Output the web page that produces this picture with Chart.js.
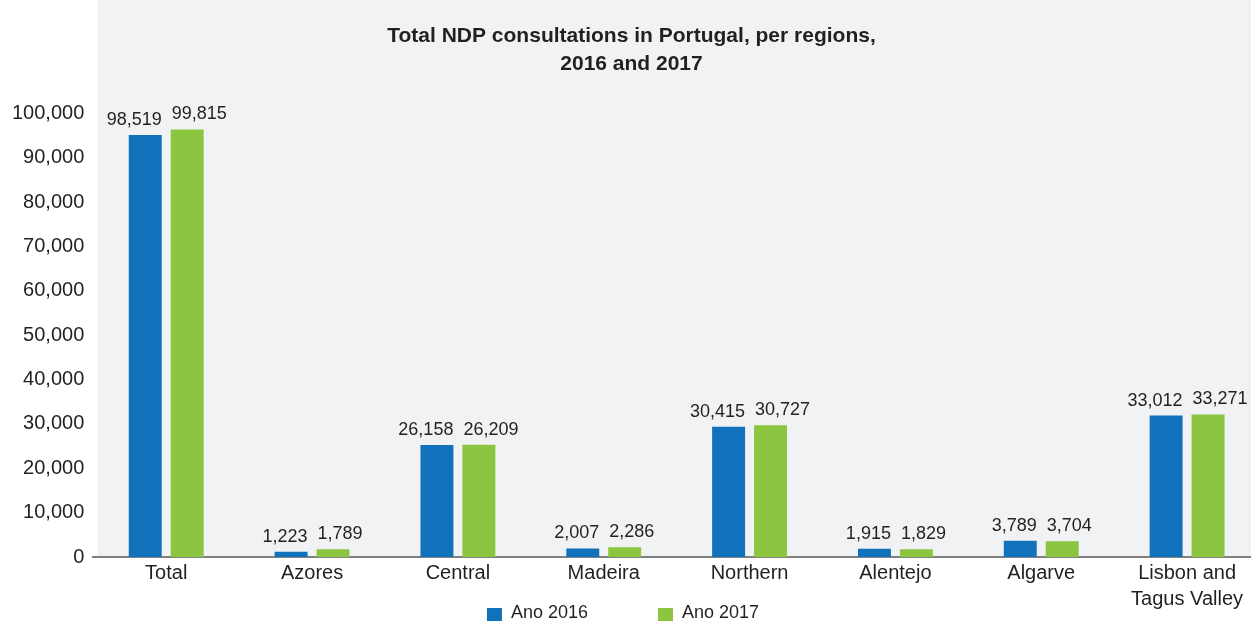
<!DOCTYPE html>
<html>
<head>
<meta charset="utf-8">
<title>Total NDP consultations in Portugal, per regions, 2016 and 2017</title>
<script src="https://cdn.jsdelivr.net/npm/chart.js@4/dist/chart.umd.min.js"></script>
<style>
    html, body { margin: 0; padding: 0; background: #ffffff; overflow: hidden; }
    #wrap { width: 1260px; height: 621px; }
</style>
</head>
<body>
<div id="wrap"><canvas id="ndpChart"></canvas></div>
<script>
    // Chart data
    const regions = ['Total', 'Azores', 'Central', 'Madeira', 'Northern', 'Alentejo', 'Algarve', ['Lisbon and', 'Tagus Valley']];
    const values2016 = [98519, 1223, 26158, 2007, 30415, 1915, 3789, 33012];
    const values2017 = [99815, 1789, 26209, 2286, 30727, 1829, 3704, 33271];
    const seriesNames = ['Ano 2016', 'Ano 2017'];
    const yTicks = [0, 10000, 20000, 30000, 40000, 50000, 60000, 70000, 80000, 90000, 100000];

    const FONT = '"Liberation Sans", Arial, sans-serif';
    const TEXT = '#231f20';
    const BLUE = '#1172bb';
    const GREEN = '#8cc53f';

    // Light grey panel behind the plot and title
    const panelBg = {
        id: 'panelBg',
        beforeDraw: function(chart) {
            const ctx = chart.ctx;
            const area = chart.chartArea;
            ctx.save();
            ctx.fillStyle = '#f1f2f4';
            ctx.fillRect(area.left + 4, 0, chart.width - area.left - 4, area.bottom);
            ctx.restore();
        }
    };

    // Value labels over each bar (blue ones end at the bar's right edge, green ones start at its left edge)
    const valueLabels = {
        id: 'valueLabels',
        afterDatasetsDraw: function(chart) {
            const ctx = chart.ctx;
            ctx.save();
            ctx.font = '18px ' + FONT;
            ctx.fillStyle = TEXT;
            ctx.textBaseline = 'alphabetic';
            chart.data.datasets.forEach(function(ds, di) {
                chart.getDatasetMeta(di).data.forEach(function(bar, i) {
                    const txt = ds.data[i].toLocaleString('en-US');
                    const half = bar.width / 2;
                    if (di === 0) {
                        ctx.textAlign = 'right';
                        ctx.fillText(txt, bar.x + half, bar.y - 10);
                    } else {
                        ctx.textAlign = 'left';
                        ctx.fillText(txt, bar.x - half + 1, bar.y - 10);
                    }
                });
            });
            ctx.restore();
        }
    };

    // Legend row at the bottom, centred in the visible window
    const bottomLegend = {
        id: 'bottomLegend',
        afterDraw: function(chart) {
            const ctx = chart.ctx;
            const box = 15, gap = 9, itemGap = 70;
            ctx.save();
            ctx.font = '18px ' + FONT;
            const widths = chart.data.datasets.map(function(ds) {
                return box + gap + ctx.measureText(ds.label).width;
            });
            const total = widths.reduce(function(a, b) { return a + b; }, 0) + itemGap * (widths.length - 1);
            let x = 623 - total / 2;
            const y = 613;
            chart.data.datasets.forEach(function(ds, i) {
                ctx.fillStyle = ds.backgroundColor;
                ctx.fillRect(x, y - 5, box, box);
                ctx.fillStyle = TEXT;
                ctx.textAlign = 'left';
                ctx.textBaseline = 'middle';
                ctx.fillText(ds.label, x + box + gap, y);
                x += widths[i] + itemGap;
            });
            ctx.restore();
        }
    };

    new Chart(document.getElementById('ndpChart'), {
        type: 'bar',
        data: {
            labels: regions,
            datasets: [{
                label: seriesNames[0],
                data: values2016,
                backgroundColor: BLUE,
                yAxisID: 'yBars'
            }, {
                label: seriesNames[1],
                data: values2017,
                backgroundColor: GREEN,
                yAxisID: 'yBars'
            }]
        },
        options: {
            responsive: true,
            maintainAspectRatio: false,
            animation: false,
            devicePixelRatio: 1,
            categoryPercentage: 0.575,
            barPercentage: 0.786,
            layout: {
                padding: { left: 3, right: 0, top: 0, bottom: 6 }
            },
            plugins: {
                legend: { display: false },
                tooltip: { enabled: false },
                title: {
                    display: true,
                    text: ['Total NDP consultations in Portugal, per regions,', '2016 and 2017'],
                    color: TEXT,
                    font: { family: FONT, size: 21, weight: 'bold', lineHeight: 1.3 },
                    padding: { top: 23, bottom: 36 }
                }
            },
            scales: {
                x: {
                    grid: { display: false, drawTicks: false },
                    border: { display: true, color: '#808080', width: 2 },
                    ticks: {
                        color: TEXT,
                        padding: 3,
                        maxRotation: 0,
                        autoSkip: false,
                        font: { family: FONT, size: 20, lineHeight: 1.3 }
                    }
                },
                y: {
                    position: 'left',
                    min: 0,
                    max: 100000,
                    afterBuildTicks: function(axis) {
                        axis.ticks = yTicks.map(function(v) { return { value: v }; });
                    },
                    grid: { display: false, drawTicks: false },
                    border: { display: false },
                    ticks: {
                        color: TEXT,
                        padding: 9,
                        font: { family: FONT, size: 20 },
                        callback: function(v) { return v.toLocaleString('en-US'); }
                    }
                },
                yBars: {
                    display: false,
                    min: 0,
                    max: 103500
                }
            }
        },
        plugins: [panelBg, valueLabels, bottomLegend]
    });
</script>
</body>
</html>
